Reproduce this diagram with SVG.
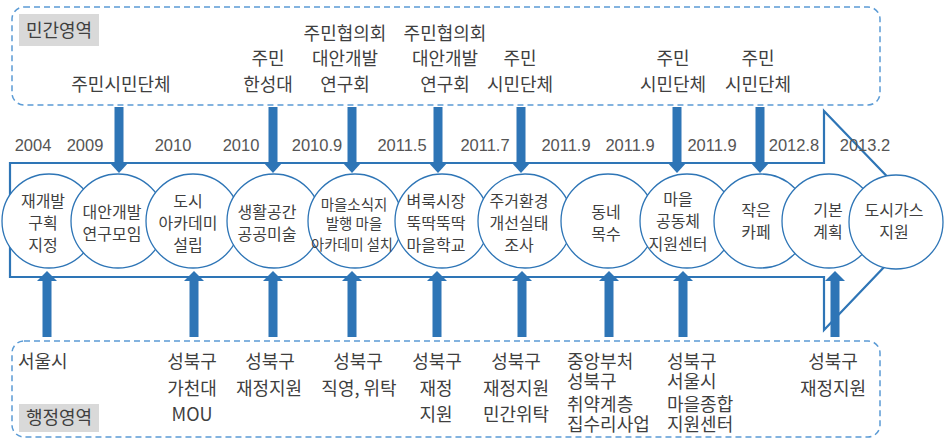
<svg xmlns="http://www.w3.org/2000/svg" width="947" height="438" viewBox="0 0 947 438">
<style>
  .kr { font-family: "Noto Sans CJK KR", "Noto Sans", sans-serif; fill: #3f3f3f; }
  .t18 { font-size: 18px; }
  .t16 { font-size: 16px; }
  .mid { text-anchor: middle; }
  .yr { font-family: "Liberation Sans", Arial, sans-serif; font-size: 16.5px; fill: #555; text-anchor: middle; }
  .zone { fill: none; stroke: #5b9bd5; stroke-width: 1.5; stroke-dasharray: 6 4; }
  .tag { fill: #d9d9d9; }
  .node { fill: #ffffff; stroke: #2e75b6; stroke-width: 1.3; }
  .big { fill: #ffffff; stroke: #2e75b6; stroke-width: 2.2; stroke-linejoin: miter; }
  .bar { fill: #2e75b6; }
</style>
<defs>
  <g id="down">
    <rect x="-4.5" y="0" width="9" height="56" class="bar"/>
    <polygon points="-10,55 10,55 0,66" class="bar"/>
  </g>
  <g id="up">
    <rect x="-4.5" y="9" width="9" height="57" class="bar"/>
    <polygon points="-10,10 10,10 0,0" class="bar"/>
  </g>
</defs>

<!-- zones -->
<g id="zone-private">
  <rect x="12" y="7" width="868" height="98" rx="12" class="zone"/>
  <rect x="19" y="14" width="80" height="32" class="tag"/>
  <text x="59" y="36.5" class="kr t18 mid">민간영역</text>
</g>
<g id="zone-admin">
  <rect x="12" y="341" width="868" height="96" rx="12" class="zone"/>
  <rect x="19" y="404" width="80" height="28" class="tag"/>
  <text x="59" y="424" class="kr t18 mid">행정영역</text>
</g>

<!-- timeline arrow -->
<g id="timeline">
  <path d="M10,163 L824,163 L824,111 L929,220 L824,330 L824,277 L10,277 Z" class="big"/>
</g>

<!-- years -->
<g id="years">
  <text x="33" y="151" class="yr">2004</text>
  <text x="85" y="151" class="yr">2009</text>
  <text x="173" y="151" class="yr">2010</text>
  <text x="241" y="151" class="yr">2010</text>
  <text x="317" y="151" class="yr">2010.9</text>
  <text x="402" y="151" class="yr">2011.5</text>
  <text x="485" y="151" class="yr">2011.7</text>
  <text x="566" y="151" class="yr">2011.9</text>
  <text x="630" y="151" class="yr">2011.9</text>
  <text x="712" y="151" class="yr">2011.9</text>
  <text x="794" y="151" class="yr">2012.8</text>
  <text x="865" y="151" class="yr">2013.2</text>
</g>

<!-- circle nodes -->
<g id="n1"><circle cx="49" cy="221" r="47" class="node"/>
  <text class="kr t16 mid"><tspan x="43" y="207">재개발</tspan><tspan x="43" y="229">구획</tspan><tspan x="43" y="251">지정</tspan></text></g>
<g id="n2"><circle cx="118" cy="221" r="47" class="node"/>
  <text class="kr t16 mid"><tspan x="112" y="218">대안개발</tspan><tspan x="112" y="240">연구모임</tspan></text></g>
<g id="n3"><circle cx="193" cy="221" r="47" class="node"/>
  <text class="kr t16 mid"><tspan x="188" y="207">도시</tspan><tspan x="188" y="229">아카데미</tspan><tspan x="188" y="251">설립</tspan></text></g>
<g id="n4"><circle cx="274" cy="221" r="47" class="node"/>
  <text class="kr t16 mid"><tspan x="267" y="218">생활공간</tspan><tspan x="267" y="240">공공미술</tspan></text></g>
<g id="n5"><circle cx="355" cy="221" r="47" class="node"/>
  <text class="kr mid" style="font-size:14.5px"><tspan x="354" y="209.5">마을소식지</tspan><tspan x="354" y="229">발행 마을</tspan><tspan x="352" y="249.5" textLength="82" lengthAdjust="spacingAndGlyphs">아카데미 설치</tspan></text></g>
<g id="n6"><circle cx="442" cy="221" r="47" class="node"/>
  <text class="kr t16 mid"><tspan x="436" y="207">벼룩시장</tspan><tspan x="436" y="229">뚝딱뚝딱</tspan><tspan x="436" y="251">마을학교</tspan></text></g>
<g id="n7"><circle cx="525" cy="221" r="47" class="node"/>
  <text class="kr t16 mid"><tspan x="519" y="207">주거환경</tspan><tspan x="519" y="229">개선실태</tspan><tspan x="519" y="251">조사</tspan></text></g>
<g id="n8"><circle cx="608" cy="221" r="47" class="node"/>
  <text class="kr t16 mid"><tspan x="606" y="218">동네</tspan><tspan x="606" y="240">목수</tspan></text></g>
<g id="n9"><circle cx="687" cy="221" r="47" class="node"/>
  <text class="kr t16 mid"><tspan x="678" y="205">마을</tspan><tspan x="678" y="227">공동체</tspan><tspan x="678" y="250">지원센터</tspan></text></g>
<g id="n10"><circle cx="761" cy="221" r="47" class="node"/>
  <text class="kr t16 mid"><tspan x="756" y="216">작은</tspan><tspan x="756" y="238">카페</tspan></text></g>
<g id="n11"><circle cx="829" cy="221" r="47" class="node"/>
  <text class="kr t16 mid"><tspan x="828" y="216">기본</tspan><tspan x="828" y="238">계획</tspan></text></g>
<g id="n12"><circle cx="896" cy="222" r="47" class="node"/>
  <text class="kr t16 mid"><tspan x="894" y="216">도시가스</tspan><tspan x="894" y="238">지원</tspan></text></g>

<!-- connectors -->
<g id="connectors">
  <use href="#down" x="119" y="107"/>
  <use href="#down" x="273" y="107"/>
  <use href="#down" x="352" y="107"/>
  <use href="#down" x="438" y="107"/>
  <use href="#down" x="521" y="107"/>
  <use href="#down" x="677" y="107"/>
  <use href="#down" x="760" y="107"/>
  <use href="#up" x="47" y="271"/>
  <use href="#up" x="194" y="271"/>
  <use href="#up" x="273" y="271"/>
  <use href="#up" x="352" y="271"/>
  <use href="#up" x="437" y="271"/>
  <use href="#up" x="522" y="271"/>
  <use href="#up" x="609" y="271"/>
  <use href="#up" x="683" y="271"/>
  <use href="#up" x="835" y="271"/>
</g>

<!-- private actors -->
<g id="p1"><text x="121" y="90.5" class="kr t18 mid">주민시민단체</text></g>
<g id="p2"><text class="kr t18 mid"><tspan x="268" y="64.5">주민</tspan><tspan x="268" y="90.5">한성대</tspan></text></g>
<g id="p3"><text class="kr t18 mid"><tspan x="345" y="40">주민협의회</tspan><tspan x="345" y="64.5">대안개발</tspan><tspan x="345" y="90.5">연구회</tspan></text></g>
<g id="p4"><text class="kr t18 mid"><tspan x="445" y="40">주민협의회</tspan><tspan x="445" y="64.5">대안개발</tspan><tspan x="445" y="90.5">연구회</tspan></text></g>
<g id="p5"><text class="kr t18 mid"><tspan x="520" y="64.5">주민</tspan><tspan x="520" y="90.5">시민단체</tspan></text></g>
<g id="p6"><text class="kr t18 mid"><tspan x="673" y="64.5">주민</tspan><tspan x="673" y="90.5">시민단체</tspan></text></g>
<g id="p7"><text class="kr t18 mid"><tspan x="758" y="64.5">주민</tspan><tspan x="758" y="90.5">시민단체</tspan></text></g>

<!-- admin actors -->
<g id="a1"><text x="18" y="367.5" class="kr t18">서울시</text></g>
<g id="a2"><text class="kr t18 mid"><tspan x="192" y="367.5">성북구</tspan><tspan x="192" y="395">가천대</tspan><tspan x="192" y="420.5">MOU</tspan></text></g>
<g id="a3"><text class="kr t18 mid"><tspan x="270" y="367.5">성북구</tspan><tspan x="269" y="394.5">재정지원</tspan></text></g>
<g id="a4"><text class="kr t18 mid"><tspan x="358" y="367.5">성북구</tspan><tspan x="359" y="394.5">직영, 위탁</tspan></text></g>
<g id="a5"><text class="kr t18 mid"><tspan x="437" y="367.5">성북구</tspan><tspan x="436" y="394.5">재정</tspan><tspan x="436" y="420.5">지원</tspan></text></g>
<g id="a6"><text class="kr t18 mid"><tspan x="516" y="368">성북구</tspan><tspan x="516" y="394.5">재정지원</tspan><tspan x="516" y="420.5">민간위탁</tspan></text></g>
<g id="a7"><text class="kr t18"><tspan x="567" y="367.5">중앙부처</tspan><tspan x="567" y="388">성북구</tspan><tspan x="567" y="410.5">취약계층</tspan><tspan x="567" y="431">집수리사업</tspan></text></g>
<g id="a8"><text class="kr t18"><tspan x="667" y="367.5">성북구</tspan><tspan x="667" y="388">서울시</tspan><tspan x="667" y="410.5">마을종합</tspan><tspan x="667" y="431">지원센터</tspan></text></g>
<g id="a9"><text class="kr t18 mid"><tspan x="833" y="367.5">성북구</tspan><tspan x="833" y="394.5">재정지원</tspan></text></g>
</svg>
